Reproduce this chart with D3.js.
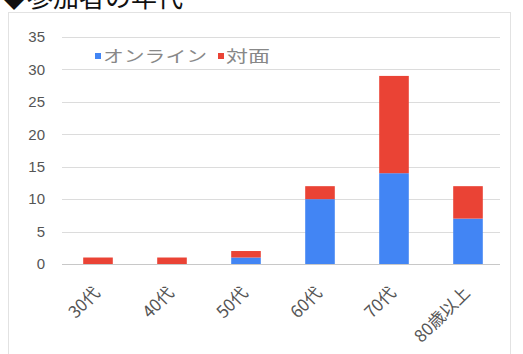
<!DOCTYPE html>
<html>
<head>
<meta charset="utf-8">
<script src="https://cdn.jsdelivr.net/npm/d3@7/dist/d3.min.js"></script>
<style>
  html, body { margin: 0; padding: 0; background: #fff; }
  svg { display: block; font-family: "Noto Sans CJK JP", "Noto Sans", sans-serif; }
</style>
</head>
<body>
<svg id="chart" width="523" height="354"></svg>
<script>
// Age groups of participants, split by attendance mode
const categories = ["30代", "40代", "50代", "60代", "70代", "80歳以上"];
const online = [0, 0, 1, 10, 14, 7];
const inPerson = [1, 1, 1, 2, 15, 5];
const seriesNames = ["オンライン", "対面"];
const seriesColors = ["#4285F4", "#EA4335"];
const yTicks = [0, 5, 10, 15, 20, 25, 30, 35];

const svg = d3.select("#chart");

// Title (runs past the top edge)
svg.append("text")
  .attr("x", 1).attr("y", 7)
  .attr("font-size", 26)
  .attr("fill", "#111")
  .text("◆参加者の年代");

// Card
svg.append("rect")
  .attr("x", 8.5).attr("y", 12.5)
  .attr("width", 502).attr("height", 360)
  .attr("fill", "#fff")
  .attr("stroke", "#e2e2e2");

const x = d3.scaleBand()
  .domain(categories)
  .range([61, 505])
  .paddingInner(0.6)
  .paddingOuter(0.3);

const y = d3.scaleLinear().domain([0, 35]).range([264, 37]);

// Gridlines
svg.append("g")
  .selectAll("line")
  .data(yTicks)
  .join("line")
  .attr("x1", 62).attr("x2", 500)
  .attr("y1", d => Math.round(y(d)) + 0.5)
  .attr("y2", d => Math.round(y(d)) + 0.5)
  .attr("stroke", d => d === 0 ? "#c8c8c8" : "#dcdcdc")
  .attr("stroke-width", 1);

// Y tick labels
svg.append("g")
  .selectAll("text")
  .data(yTicks)
  .join("text")
  .attr("x", 45)
  .attr("y", d => y(d))
  .attr("dy", "0.35em")
  .attr("text-anchor", "end")
  .attr("font-size", 15)
  .attr("fill", "#555")
  .attr("font-family", "Arial, 'Liberation Sans', sans-serif")
  .text(d => d);

// Stacked bars
const rows = categories.map((c, i) => ({ cat: c, "オンライン": online[i], "対面": inPerson[i] }));
const stacked = d3.stack().keys(seriesNames)(rows);

svg.append("g")
  .selectAll("g")
  .data(stacked)
  .join("g")
  .attr("fill", (d, i) => seriesColors[i])
  .selectAll("rect")
  .data(d => d)
  .join("rect")
  .attr("x", d => x(d.data.cat))
  .attr("width", x.bandwidth())
  .attr("y", d => y(d[1]))
  .attr("height", d => y(d[0]) - y(d[1]));

// X tick labels, rotated
svg.append("g")
  .selectAll("text")
  .data(categories)
  .join("text")
  .attr("transform", d => `translate(${x(d) + x.bandwidth() / 2 + 3},${294}) rotate(-45)`)
  .attr("text-anchor", "end")
  .attr("font-size", 17)
  .attr("fill", "#555")
  .text(d => d);

// Legend
const legend = svg.append("g").attr("transform", "translate(95,56)");
const legendItems = [
  { x: 0, len: 104 },
  { x: 123, len: 44 }
];
seriesNames.forEach((name, i) => {
  const g = legend.append("g").attr("transform", `translate(${legendItems[i].x},0)`);
  g.append("rect").attr("x", 0).attr("y", -3).attr("width", 6).attr("height", 6)
    .attr("fill", seriesColors[i]);
  g.append("text").attr("x", 8).attr("y", 0).attr("dy", "0.35em")
    .attr("font-size", 16).attr("fill", "#888")
    .attr("textLength", legendItems[i].len)
    .attr("lengthAdjust", "spacingAndGlyphs")
    .text(name);
});
</script>
</body>
</html>
